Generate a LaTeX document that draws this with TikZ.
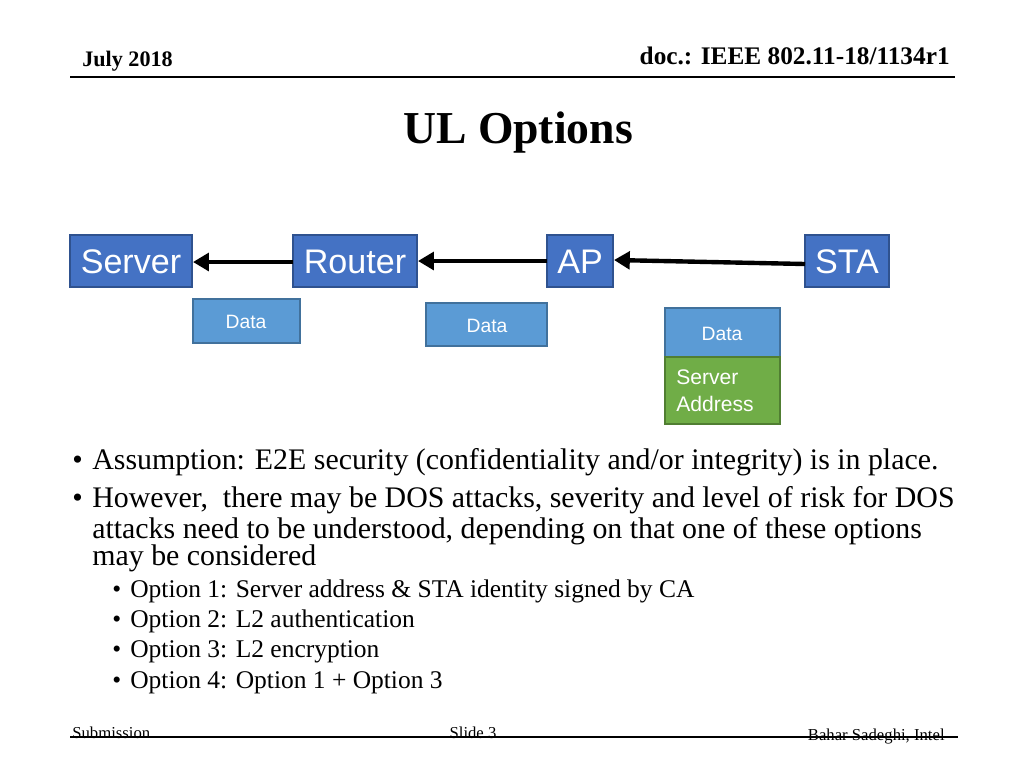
\documentclass[tikz,border=0pt]{standalone}
\usepackage{fontspec}
\setmainfont{Liberation Serif}
\newfontfamily\sansf{Liberation Sans}
\usetikzlibrary{arrows.meta}
\definecolor{dblue}{HTML}{4472C4}
\definecolor{lblue}{HTML}{5B9BD5}
\definecolor{dgreen}{HTML}{70AD47}
\definecolor{bord}{HTML}{2F528F}
\definecolor{lbord}{HTML}{41719C}
\definecolor{gbord}{HTML}{507E32}
\tikzset{
 entbox/.style={draw=bord,fill=dblue,line width=0.8pt},
 enttxt/.style={text=white,font=\sansf\fontsize{19.4}{22}\selectfont,inner sep=0pt},
 databox/.style={draw=lbord,fill=lblue,line width=0.8pt},
 datatxt/.style={text=white,font=\sansf\fontsize{11}{13}\selectfont,inner sep=0pt},
 flow/.style={line width=2.5pt,-{Triangle[length=9pt,width=10pt]}},
 txt/.style={anchor=base west,inner sep=0pt,font=\fontsize{17}{20}\selectfont},
 stxt/.style={anchor=base west,inner sep=0pt,font=\fontsize{14.5}{17}\selectfont},
 foot/.style={inner sep=0pt,font=\fontsize{9.5}{11}\selectfont}
}
\begin{document}
\begin{tikzpicture}[x=0.02cm,y=-0.02cm]
\useasboundingbox (0,0) rectangle (1024,768);
\node[anchor=base west,inner sep=0pt,font=\bfseries\fontsize{12.6}{14}\selectfont] (date) at (82,66) {July 2018};
\node[anchor=base east,inner sep=0pt,font=\bfseries\fontsize{14.4}{16}\selectfont] (doc) at (950,64) {doc.: IEEE 802.11-18/1134r1};
\draw[line width=0.8pt] (70,77) -- (955,77);
\node[inner sep=0pt,font=\bfseries\fontsize{26}{30}\selectfont] (title) at (518,133) {UL Options};
% entities
\path[entbox] (70,235) rectangle (192,287);
\node[enttxt] (server) at (131,262) {Server};
\path[entbox] (293,235) rectangle (417,287);
\node[enttxt] (router) at (355,262) {Router};
\path[entbox] (547,235) rectangle (613,287);
\node[enttxt] (ap) at (580,262) {AP};
\path[entbox] (805,235) rectangle (889,287);
\node[enttxt] (sta) at (847,262) {STA};
\coordinate (rl) at (293,262); \coordinate (sr) at (193,262);
\coordinate (al) at (547,261); \coordinate (ro) at (418,261);
\coordinate (stl) at (805,264); \coordinate (apr) at (614,260);
\draw[flow] (rl) -- (sr);
\draw[flow] (al) -- (ro);
\draw[flow] (stl) -- (apr);
% data
\path[databox] (193,299) rectangle (300,343);
\node[datatxt] (d1) at (246,322) {Data};
\path[databox] (426,303) rectangle (547,346);
\node[datatxt] (d2) at (487,326) {Data};
\path[databox] (665,308) rectangle (780,357);
\node[datatxt] (d3) at (722,334) {Data};
\path[draw=gbord,fill=dgreen,line width=0.8pt] (665,357) rectangle (780,424);
\node[text=white,font=\sansf\fontsize{12}{15.5}\selectfont,inner sep=0pt,align=left,anchor=north west] (sa) at (676,369) {Server\\Address};
% bullets
\node[txt] (b1) at (72,469) {•};
\node[txt] (t1) at (92,469) {Assumption: E2E security (confidentiality and/or integrity) is in place.};
\node[txt] (b2) at (72,507) {•};
\node[txt] (t2) at (92,507) {However,\ \ there may be DOS attacks, severity and level of risk for DOS};
\node[txt] (t3) at (92,538) {attacks need to be understood, depending on that one of these options};
\node[txt] (t4) at (92,565) {may be considered};
\foreach \yy/\tt [count=\i] in {597/{Option 1: Server address \& STA identity signed by CA},627/{Option 2: L2 authentication},657/{Option 3: L2 encryption},688/{Option 4: Option 1 + Option 3}}{
 \node[stxt] (sb\i) at (112,\yy) {•};
 \node[stxt] (st\i) at (130,\yy) {\tt};
}
% footer
\node[foot,anchor=base west] (sub) at (72,738) {Submission};
\node[foot,anchor=base] (sl) at (473,738) {Slide 3};
\node[foot,anchor=base east] (au) at (945,740) {Bahar Sadeghi, Intel};
\draw[line width=0.6pt] (70,737) -- (958,737);
\end{tikzpicture}
\end{document}
